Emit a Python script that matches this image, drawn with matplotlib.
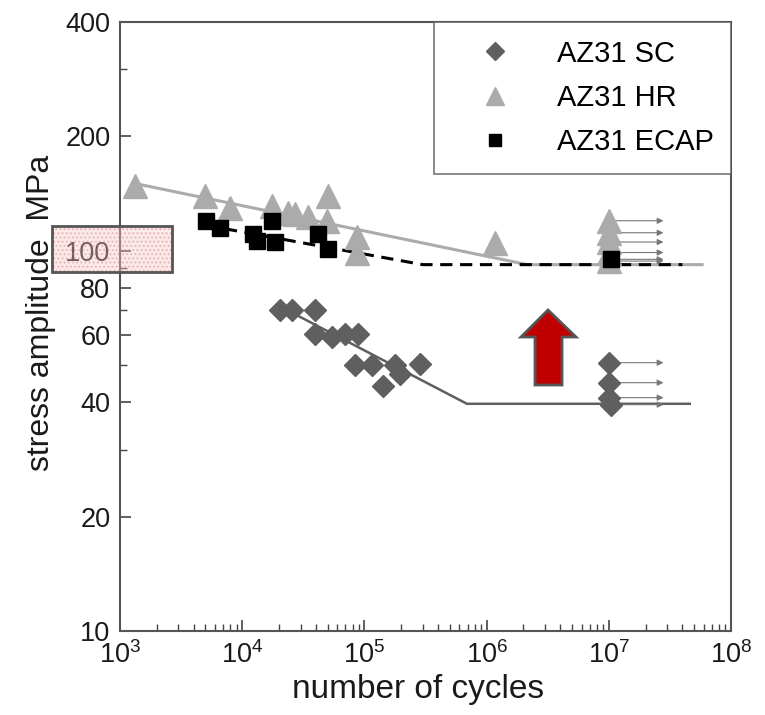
import numpy as np
import matplotlib.pyplot as plt
import matplotlib.patches as mpatches
from matplotlib.ticker import FixedLocator, NullFormatter

plt.rcParams['font.family'] = ['Liberation Sans', 'DejaVu Sans']
plt.rcParams['mathtext.fontset'] = 'custom'
plt.rcParams['mathtext.rm'] = 'Liberation Sans'

# AZ31 SC (cast) - broken specimens
sc_n = [2.04e4, 2.55e4, 3.94e4, 3.94e4, 5.43e4, 6.93e4, 8.87e4, 8.38e4, 1.15e5, 1.78e5, 1.95e5, 2.85e5, 1.42e5]
sc_s = [70, 70, 70, 60.3, 59.5, 60.3, 60.3, 50.2, 50.2, 50.2, 47.3, 50.5, 44]
sc_runout_n = [1.0e7, 1.0e7, 1.0e7, 1.05e7]
sc_runout_s = [50.8, 45, 41.1, 39.4]
sc_fit_n = [2.3e4, 6.9e5, 4.6e7]
sc_fit_s = [70, 39.6, 39.6]

# AZ31 HR (hot rolled)
hr_n = [1.33e3, 4.96e3, 7.95e3, 1.75e4, 2.37e4, 2.7e4, 3.45e4, 5.04e4, 4.95e4, 8.7e4, 8.7e4, 1.17e6]
hr_s = [148, 139, 130, 131, 126, 125, 123, 139, 120, 108.5, 99, 104.7]
hr_runout_n = [1.0e7, 1.0e7, 1.0e7, 1.0e7, 1.0e7]
hr_runout_s = [120, 111.6, 105.5, 99, 94]
hr_fit_n = [1.38e3, 2.15e6, 5.8e7]
hr_fit_s = [150, 92, 92]

# AZ31 ECAP
ecap_n = [5.06e3, 6.58e3, 1.22e4, 1.32e4, 1.75e4, 1.85e4, 4.17e4, 5.04e4]
ecap_s = [120, 115, 110.5, 106, 120, 105.5, 110.5, 101]
ecap_runout_n = [1.05e7]
ecap_runout_s = [95]
ecap_fit_n = [5.0e3, 3.0e5, 4.0e7]
ecap_fit_s = [116.8, 92, 92]

runout_end = 2.8e7

y_ticks = [10, 20, 40, 60, 80, 100, 200, 400]
y_minor = [30, 50, 70, 90, 300]
x_ticks = [1e3, 1e4, 1e5, 1e6, 1e7, 1e8]

sc_col = '#5f5f5f'
hr_col = '#ababab'
ecap_col = '#000000'

fig = plt.figure(figsize=(7.65, 7.15), dpi=100)
ax = fig.add_axes([120 / 765, 1 - 631 / 715, 611 / 765, 609 / 715])
ax.set_xscale('log')
ax.set_yscale('log')
ax.set_xlim(1e3, 1e8)
ax.set_ylim(10, 400)

# fit lines
ax.plot(hr_fit_n, hr_fit_s, color=hr_col, lw=2.2, zorder=2)
ax.plot(ecap_fit_n, ecap_fit_s, color=ecap_col, lw=2.2, ls=(0, (4, 2.5)), zorder=2)
ax.plot(sc_fit_n, sc_fit_s, color=sc_col, lw=1.8, zorder=2)

# runout arrows
for n, s in zip(hr_runout_n + sc_runout_n + ecap_runout_n, hr_runout_s + sc_runout_s + ecap_runout_s):
    ax.annotate('', xy=(runout_end, s), xytext=(n * 1.1, s),
                arrowprops=dict(arrowstyle='-|>', color='#777777', lw=0.8,
                                mutation_scale=9, shrinkA=0, shrinkB=0), zorder=3)

# points
ax.plot(sc_n + sc_runout_n, sc_s + sc_runout_s, 'D', color=sc_col, ms=11, mec=sc_col,
        ls='none', zorder=4, label='AZ31 SC')
ax.plot(hr_n + hr_runout_n, hr_s + hr_runout_s, '^', color=hr_col, ms=17, mec=hr_col,
        ls='none', zorder=4, label='AZ31 HR')
ax.plot(ecap_n + ecap_runout_n, ecap_s + ecap_runout_s, 's', color=ecap_col, ms=11,
        ls='none', zorder=5, label='AZ31 ECAP')

# axes styling
ax.yaxis.set_major_locator(FixedLocator(y_ticks))
ax.yaxis.set_minor_locator(FixedLocator(y_minor))
ax.set_yticklabels([str(v) for v in y_ticks])
ax.yaxis.set_minor_formatter(NullFormatter())
ax.xaxis.set_major_locator(FixedLocator(x_ticks))
ax.set_xticklabels([r'$\mathregular{10^{%d}}$' % int(np.log10(v)) for v in x_ticks])
x_minor = [m * 10 ** e for e in range(3, 8) for m in range(2, 10)]
ax.xaxis.set_minor_locator(FixedLocator(x_minor))
ax.xaxis.set_minor_formatter(NullFormatter())
ax.tick_params(which='both', direction='in', colors='#444444', labelcolor='#1a1a1a', labelsize=19.5)
ax.tick_params(which='major', length=8, width=1.2, pad=7)
ax.tick_params(which='minor', length=5, width=1.0)
for sp in ax.spines.values():
    sp.set_color('#555555')
    sp.set_linewidth(1.5)

ax.set_xlabel('number of cycles', fontsize=24, color='#1a1a1a', labelpad=4)
ax.xaxis.label.set_x(0.488)
ax.set_ylabel('stress amplitude  MPa', fontsize=23, color='#1a1a1a')
ax.yaxis.set_label_coords(-0.105, 0.523)

leg = ax.legend(loc='upper right', bbox_to_anchor=(1, 1), borderaxespad=0, fontsize=21,
                frameon=True, fancybox=False, edgecolor='#555555', handlelength=3.0,
                handletextpad=0.6, borderpad=0.6, labelspacing=0.56, markerscale=0.8)
leg.get_frame().set_linewidth(1.2)

# highlight box over the 100 label
W, H = 765, 715
box = mpatches.Rectangle((52 / W, 1 - 272 / H), 120 / W, 46 / H, transform=fig.transFigure,
                         facecolor='#f7c8c8', edgecolor='#e07070', hatch='....', lw=0,
                         alpha=0.38, zorder=5)
fig.patches.append(box)
box_edge = mpatches.Rectangle((52 / W, 1 - 272 / H), 120 / W, 46 / H, transform=fig.transFigure,
                              facecolor='none', edgecolor='#555555', lw=2, zorder=6)
fig.patches.append(box_edge)

# red up arrow
arrow_px = [(548, 310), (576, 337), (562, 337), (562, 385), (535, 385), (535, 337), (521, 337)]
arrow = mpatches.Polygon([(x / W, 1 - y / H) for x, y in arrow_px], closed=True,
                         transform=fig.transFigure, facecolor='#c00000', edgecolor='#555555',
                         lw=2, zorder=6)
fig.patches.append(arrow)

fig.savefig('out.png', dpi=100)
